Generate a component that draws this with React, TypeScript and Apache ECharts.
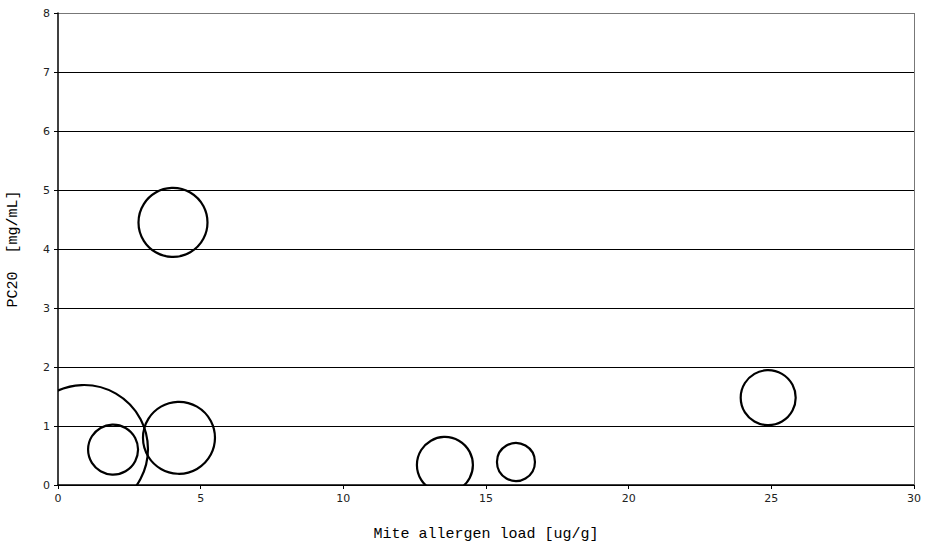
import React, { useEffect, useRef } from "react";
import * as echarts from "echarts";

const xValues = [0.91, 1.93, 4.24, 4.03, 13.56, 16.05, 24.89];
const yValues = [0.61, 0.6, 0.8, 4.45, 0.34, 0.39, 1.48];
const bubbleSizes = [128, 50, 72, 69, 56, 38, 55];
const xTicks = [0, 5, 10, 15, 20, 25, 30];
const yTicks = [0, 1, 2, 3, 4, 5, 6, 7, 8];

export default function App() {
  const ref = useRef<HTMLDivElement>(null);
  useEffect(() => {
    const chart = echarts.init(ref.current!, null, { renderer: "svg" });
    const data = xValues.map((x, i) => [x, yValues[i], bubbleSizes[i]]);
    const splitColors = yTicks.map((t, i) => (i === yTicks.length - 1 ? "#777" : "#000"));
    chart.setOption({
      animation: false,
      backgroundColor: "#fff",
      grid: { left: 58, right: 19, top: 13, bottom: 61, containLabel: false, outerBoundsMode: "none" },
      xAxis: {
        type: "value",
        min: xTicks[0],
        max: xTicks[xTicks.length - 1],
        interval: 5,
        name: "Mite allergen load [ug/g]",
        nameLocation: "middle",
        nameGap: 42,
        nameTextStyle: { fontFamily: "Liberation Mono", fontSize: 15, color: "#000" },
        axisLine: { lineStyle: { color: "#000", width: 1.5 } },
        axisTick: { show: true, length: 4, lineStyle: { color: "#000" } },
        axisLabel: { fontFamily: "DejaVu Sans", fontSize: 11, color: "#222", margin: 8 },
        splitLine: { show: false },
      },
      yAxis: {
        type: "value",
        min: yTicks[0],
        max: yTicks[yTicks.length - 1],
        interval: 1,
        name: "PC20  [mg/mL]",
        nameLocation: "middle",
        nameGap: 37,
        nameTextStyle: { fontFamily: "Liberation Mono", fontSize: 15, color: "#000" },
        axisLine: { show: true, lineStyle: { color: "#000", width: 1.5 } },
        axisTick: { show: true, length: 4, lineStyle: { color: "#000" } },
        axisLabel: { fontFamily: "DejaVu Sans", fontSize: 11, color: "#222", margin: 8 },
        splitLine: { show: true, lineStyle: { color: splitColors, width: 1 } },
      },
      series: [
        {
          type: "custom",
          data,
          clip: true,
          silent: true,
          renderItem: (params: any, api: any) => {
            const p = api.coord([api.value(0), api.value(1)]);
            return {
              type: "circle",
              shape: { cx: p[0], cy: p[1], r: api.value(2) / 2 },
              style: { fill: "none", stroke: "#000", lineWidth: 2.2 },
            };
          },
          z: 3,
        },
        {
          type: "line",
          data: [],
          markLine: {
            silent: true,
            symbol: "none",
            label: { show: false },
            lineStyle: { color: "#777", width: 1, type: "solid" },
            data: [[{ coord: [30, 0] }, { coord: [30, 8] }]],
          },
        },
      ],
    });
    return () => chart.dispose();
  }, []);
  return <div ref={ref} style={{ width: 933, height: 546, position: "absolute", left: 0, top: 0 }} />;
}
